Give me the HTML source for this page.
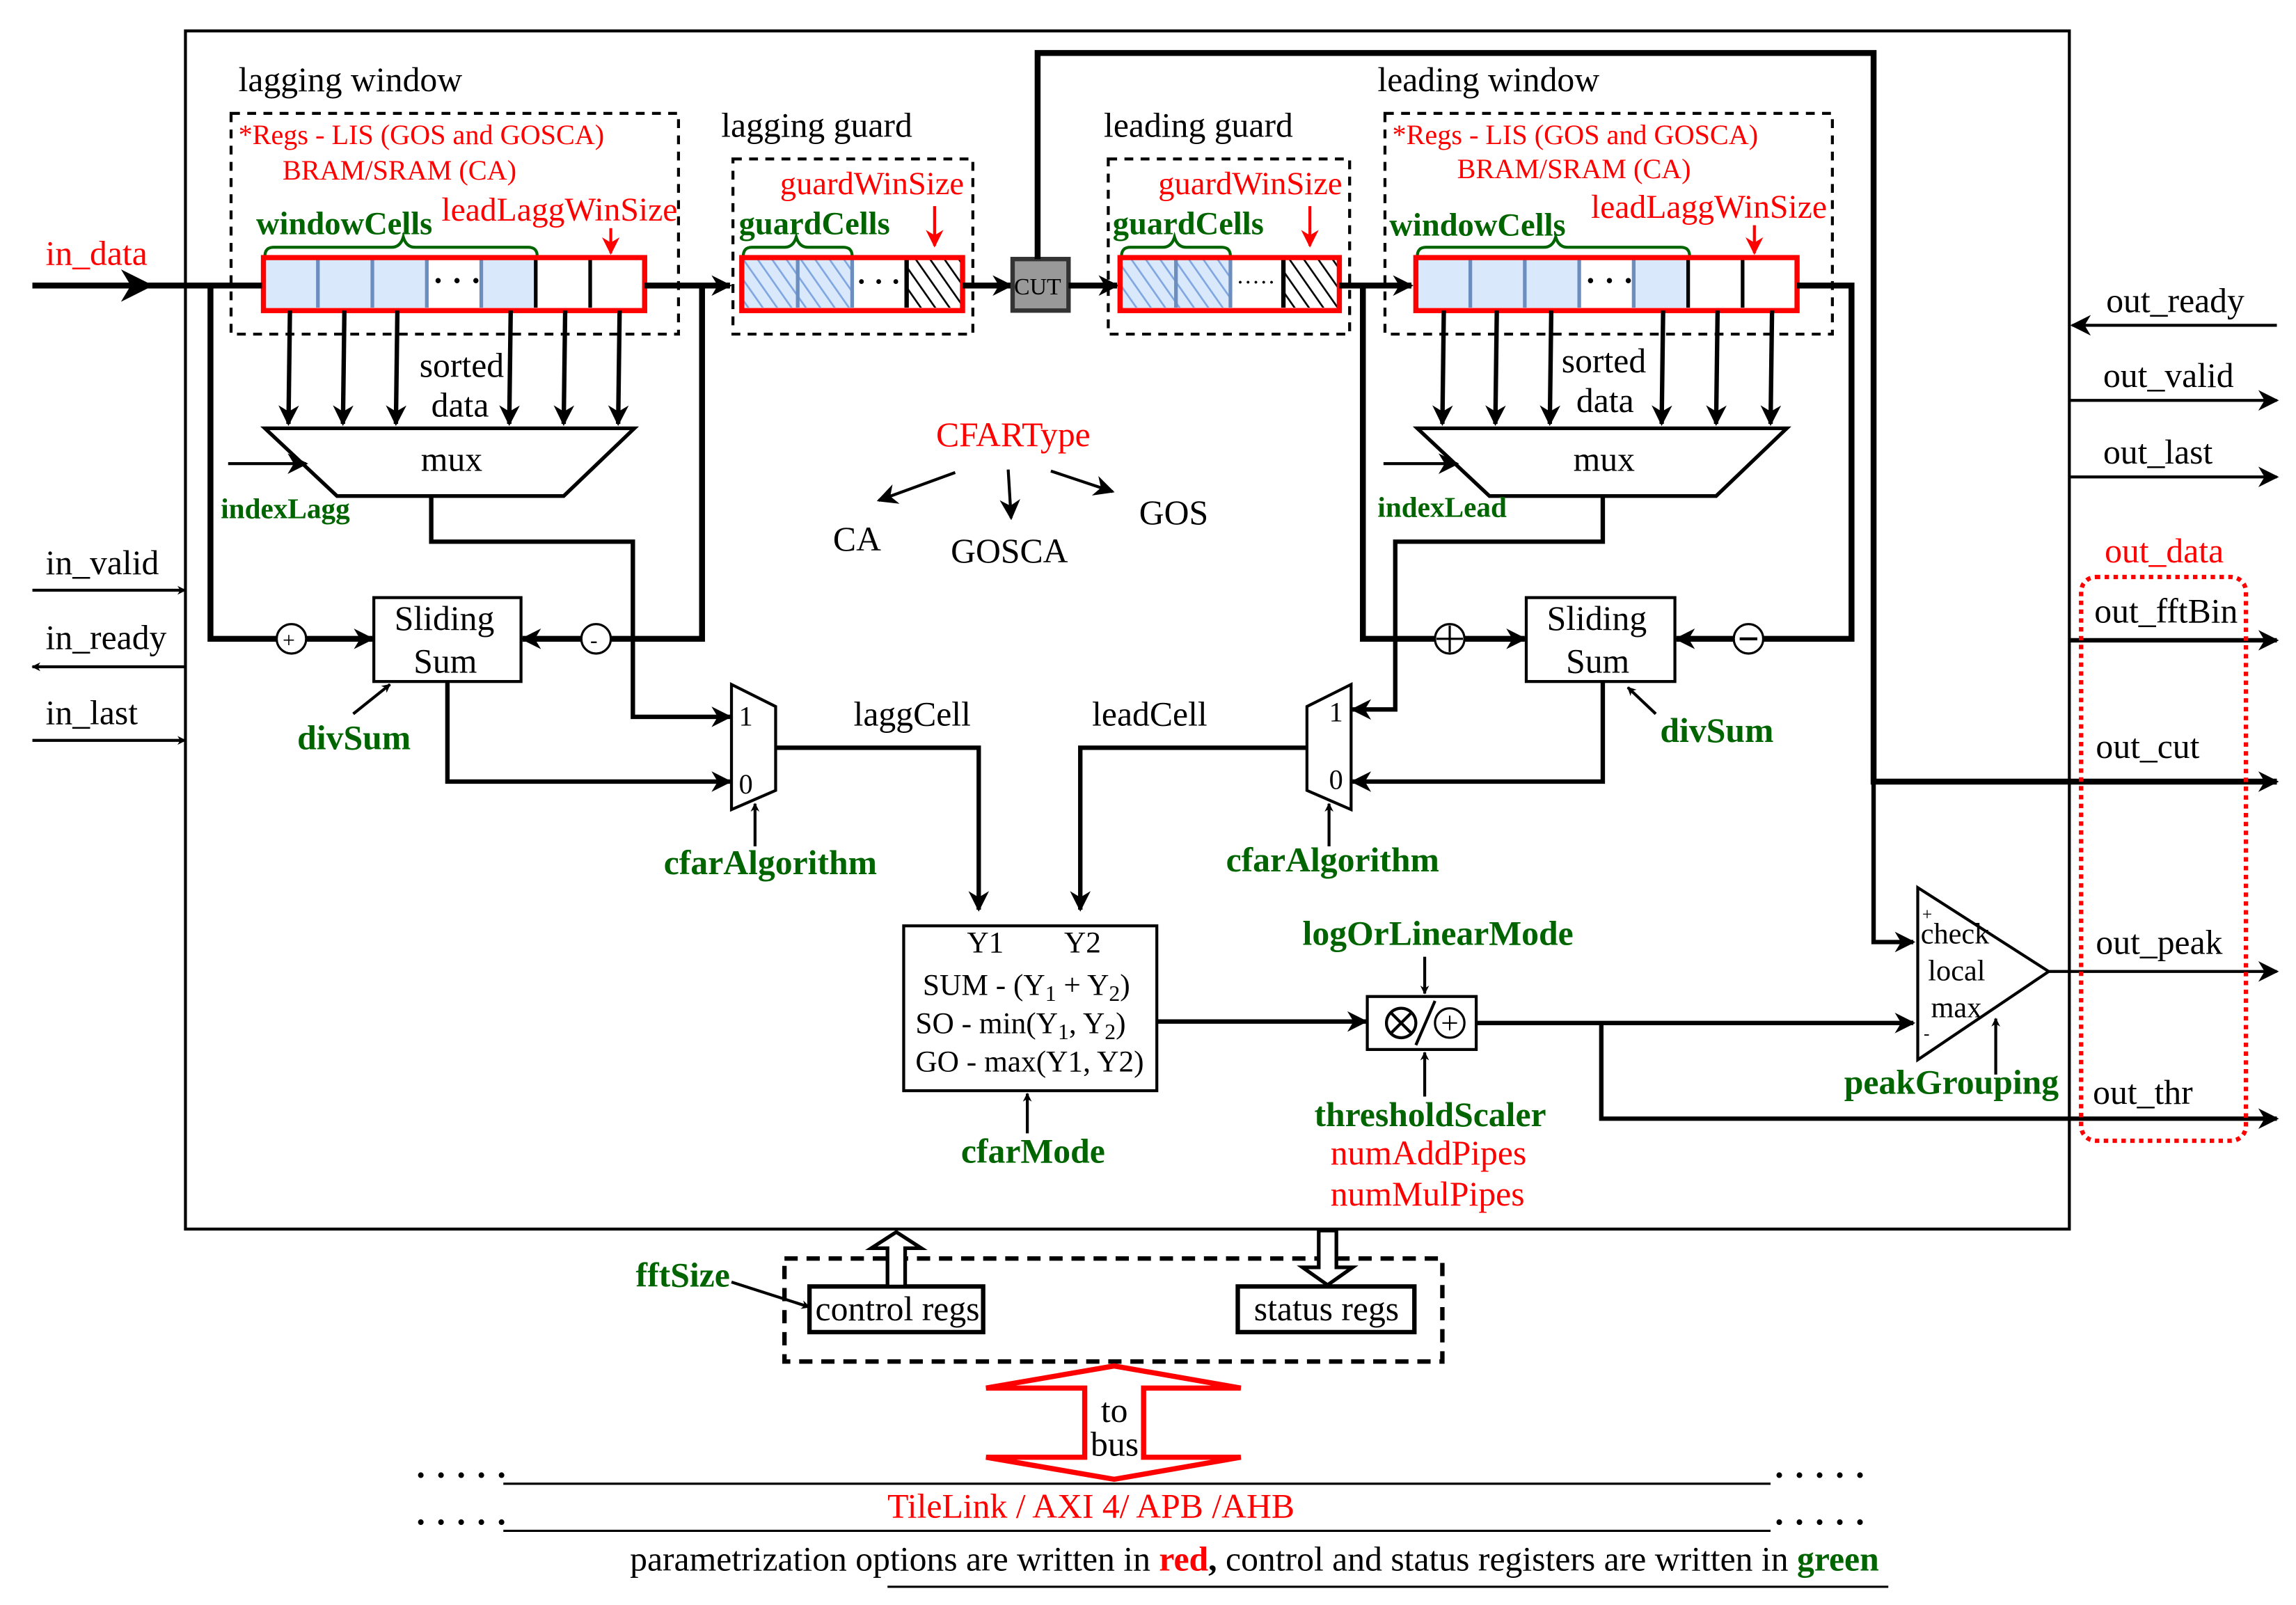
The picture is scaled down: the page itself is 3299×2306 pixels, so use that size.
<!DOCTYPE html>
<html><head><meta charset="utf-8"><style>
html,body{margin:0;padding:0;background:#fff;}
svg{display:block;}
text{font-family:"Liberation Serif",serif;font-size:23.5px;fill:#000;}
.r{fill:#f00;}
.g{fill:#006400;font-weight:bold;}
.th{stroke:#000;stroke-width:4;fill:none;}
.tn{stroke:#000;stroke-width:2;fill:none;}
</style></head><body>
<svg width="3299" height="2306" viewBox="0 0 1560 1090.4" preserveAspectRatio="none" xmlns="http://www.w3.org/2000/svg">
<defs>
<marker id="a" viewBox="0 0 10 10" refX="9" refY="5" markerWidth="6" markerHeight="6" orient="auto" markerUnits="userSpaceOnUse"><path d="M0,0 L10,5 L0,10 L3,5z" fill="#000"/></marker>
<marker id="A" viewBox="0 0 10 10" refX="9" refY="5" markerWidth="22" markerHeight="22" orient="auto" markerUnits="userSpaceOnUse"><path d="M0,0 L10,5 L0,10 L3,5z" fill="#000"/></marker>
<marker id="m" viewBox="0 0 10 10" refX="9" refY="5" markerWidth="14" markerHeight="14" orient="auto" markerUnits="userSpaceOnUse"><path d="M0,0 L10,5 L0,10 L3,5z" fill="#000"/></marker>
<marker id="ar" viewBox="0 0 10 10" refX="9" refY="5" markerWidth="12" markerHeight="12" orient="auto" markerUnits="userSpaceOnUse"><path d="M0,0 L10,5 L0,10 L3,5z" fill="#f00"/></marker>
<pattern id="hb" width="8" height="8" patternUnits="userSpaceOnUse" patternTransform="rotate(-35)"><rect width="8" height="8" fill="#dae8fc"/><line x1="0" y1="0" x2="0" y2="8" stroke="#7ea6e0" stroke-width="2.5"/></pattern>
<pattern id="hk" width="8" height="8" patternUnits="userSpaceOnUse" patternTransform="rotate(-35)"><rect width="8" height="8" fill="#fff"/><line x1="0" y1="0" x2="0" y2="8" stroke="#000" stroke-width="2.5"/></pattern>
</defs>

<rect x="126" y="21" width="1280" height="814" fill="none" stroke="#000" stroke-width="2"/>

<!-- lagging window -->
<text x="162" y="62">lagging window</text>
<rect x="157" y="77" width="304" height="150" fill="none" stroke="#000" stroke-width="2" stroke-dasharray="6,5"/>
<text class="r" x="162" y="98" style="font-size:19px">*Regs - LIS (GOS and GOSCA)</text>
<text class="r" x="192" y="122" style="font-size:19px">BRAM/SRAM (CA)</text>
<text class="g" x="174" y="159" style="font-size:22px">windowCells</text>
<path d="M180,174 q0,-6 6,-6 h80 q6,0 8,-7 q2,7 8,7 h77 q6,0 6,6" fill="none" stroke="#006400" stroke-width="2"/>
<text class="r" x="300" y="150" style="font-size:22.5px">leadLaggWinSize</text>
<line x1="415" y1="155" x2="415" y2="172" stroke="#f00" stroke-width="2" marker-end="url(#ar)"/>
<rect x="180" y="176" width="183" height="33" fill="#dae8fc"/>
<rect x="290" y="176" width="37" height="33" fill="#fff"/>
<g stroke="#6c8ebf" stroke-width="2.5"><line x1="216" y1="176" x2="216" y2="209"/><line x1="253" y1="176" x2="253" y2="209"/><line x1="290" y1="176" x2="290" y2="209"/><line x1="327" y1="176" x2="327" y2="209"/></g>
<g stroke="#000" stroke-width="2.5"><line x1="364" y1="176" x2="364" y2="209"/><line x1="401" y1="176" x2="401" y2="209"/></g>
<text x="294" y="198" style="font-size:22px;font-weight:bold">· · ·</text>
<rect x="179" y="175" width="259" height="36" fill="none" stroke="#f00" stroke-width="3.5"/>
<g class="tn" style="stroke-width:3" marker-end="url(#m)"><line x1="197" y1="211" x2="196" y2="288"/><line x1="234" y1="211" x2="233" y2="288"/><line x1="270" y1="211" x2="269" y2="288"/><line x1="347" y1="211" x2="346" y2="288"/><line x1="384" y1="211" x2="383" y2="288"/><line x1="421" y1="211" x2="420" y2="288"/></g>
<text x="285" y="256">sorted</text><text x="293" y="283">data</text>
<polygon points="180,291 431,291 383,337 229,337" fill="#fff" stroke="#000" stroke-width="2.5"/>
<text x="286" y="320">mux</text>
<line x1="155" y1="315" x2="208" y2="315" class="tn" marker-end="url(#m)"/>
<text class="g" x="150" y="352" style="font-size:19.5px">indexLagg</text>

<!-- in_data -->
<text class="r" x="31" y="180">in_data</text>
<line x1="22" y1="194" x2="178" y2="194" class="th"/>
<line x1="40" y1="194" x2="102" y2="194" class="th" marker-end="url(#A)"/>
<polyline points="143,194 143,434 253,434" class="th" marker-end="url(#m)"/>
<circle cx="198" cy="434" r="10" fill="#fff" stroke="#000" stroke-width="1.5"/><text x="192" y="440" style="font-size:15px">+</text>
<line x1="438" y1="194" x2="496" y2="194" class="th" marker-end="url(#m)"/>
<polyline points="477,194 477,434 355,434" class="th" marker-end="url(#m)"/>
<circle cx="405" cy="434" r="10" fill="#fff" stroke="#000" stroke-width="1.5"/><text x="401" y="440" style="font-size:15px">-</text>
<rect x="254" y="406" width="100" height="57" fill="#fff" stroke="#000" stroke-width="2"/>
<text x="268" y="428">Sliding</text><text x="281" y="457">Sum</text>
<text class="g" x="202" y="509">divSum</text>
<line x1="240" y1="485" x2="265" y2="465" class="tn" marker-end="url(#a)"/>
<polyline points="293,337 293,368 430,368 430,487 496,487" class="th" style="stroke-width:3" marker-end="url(#m)"/>
<polyline points="304,463 304,531 496,531" class="th" style="stroke-width:3" marker-end="url(#m)"/>
<polygon points="497,465 527,480 527,537 497,550" fill="#fff" stroke="#000" stroke-width="2"/>
<text x="502" y="493" style="font-size:19px">1</text><text x="502" y="539" style="font-size:19px">0</text>
<line x1="513" y1="575" x2="513" y2="546" class="tn" marker-end="url(#a)"/>
<text class="g" x="451" y="594">cfarAlgorithm</text>
<polyline points="527,508 665,508 665,618" class="th" style="stroke-width:3" marker-end="url(#m)"/>
<text x="580" y="493">laggCell</text>

<!-- lagging guard -->
<text x="490" y="93">lagging guard</text>
<rect x="498" y="108" width="163" height="119" fill="none" stroke="#000" stroke-width="2" stroke-dasharray="6,5"/>
<text class="r" x="530" y="132" style="font-size:22px">guardWinSize</text>
<line x1="635" y1="140" x2="635" y2="167" stroke="#f00" stroke-width="2" marker-end="url(#ar)"/>
<text class="g" x="502" y="159" style="font-size:22px">guardCells</text>
<path d="M505,174 q0,-6 6,-6 h22 q6,0 8,-7 q2,7 8,7 h24 q6,0 6,6" fill="none" stroke="#006400" stroke-width="2"/>
<rect x="505" y="176" width="74" height="33" fill="url(#hb)"/>
<line x1="542" y1="176" x2="542" y2="209" stroke="#6c8ebf" stroke-width="2.5"/><line x1="579" y1="176" x2="579" y2="209" stroke="#6c8ebf" stroke-width="2.5"/>
<rect x="616" y="176" width="37" height="33" fill="url(#hk)"/><line x1="616" y1="176" x2="616" y2="209" stroke="#000" stroke-width="3"/>
<text x="582" y="198" style="font-size:20px;font-weight:bold">· · ·</text>
<rect x="504" y="175" width="150" height="36" fill="none" stroke="#f00" stroke-width="3.5"/>
<line x1="654" y1="194" x2="687" y2="194" class="th" marker-end="url(#m)"/>
<rect x="688" y="176" width="38" height="35" fill="#999" stroke="#333" stroke-width="3"/>
<text x="689" y="200" style="font-size:16px">CUT</text>
<line x1="726" y1="194" x2="759" y2="194" class="th" marker-end="url(#m)"/>
<polyline points="705,176 705,36 1273,36 1273,531 1547,531" class="th" marker-end="url(#m)"/>
<polyline points="1273,531 1273,640 1300,640" class="th" style="stroke-width:3" marker-end="url(#m)"/>

<!-- leading guard -->
<text x="750" y="93">leading guard</text>
<rect x="753" y="108" width="164" height="119" fill="none" stroke="#000" stroke-width="2" stroke-dasharray="6,5"/>
<text class="r" x="787" y="132" style="font-size:22px">guardWinSize</text>
<line x1="890" y1="140" x2="890" y2="167" stroke="#f00" stroke-width="2" marker-end="url(#ar)"/>
<text class="g" x="756" y="159" style="font-size:22px">guardCells</text>
<path d="M762,174 q0,-6 6,-6 h22 q6,0 8,-7 q2,7 8,7 h24 q6,0 6,6" fill="none" stroke="#006400" stroke-width="2"/>
<rect x="762" y="176" width="74" height="33" fill="url(#hb)"/>
<line x1="799" y1="176" x2="799" y2="209" stroke="#6c8ebf" stroke-width="2.5"/><line x1="836" y1="176" x2="836" y2="209" stroke="#6c8ebf" stroke-width="2.5"/>
<rect x="872" y="176" width="37" height="33" fill="url(#hk)"/><line x1="872" y1="176" x2="872" y2="209" stroke="#000" stroke-width="3"/>
<text x="840" y="197" style="font-size:16px">·····</text>
<rect x="761" y="175" width="149" height="36" fill="none" stroke="#f00" stroke-width="3.5"/>
<line x1="910" y1="194" x2="959" y2="194" class="th" marker-end="url(#m)"/>
<polyline points="926,194 926,434 1036,434" class="th" marker-end="url(#m)"/>
<circle cx="985" cy="434" r="10" fill="#fff" stroke="#000" stroke-width="1.5"/><line x1="976" y1="434" x2="994" y2="434" stroke="#000" stroke-width="1.5"/><line x1="985" y1="425" x2="985" y2="443" stroke="#000" stroke-width="1.5"/>

<!-- leading window -->
<text x="936" y="62">leading window</text>
<rect x="941" y="77" width="304" height="150" fill="none" stroke="#000" stroke-width="2" stroke-dasharray="6,5"/>
<text class="r" x="946" y="98" style="font-size:19px">*Regs - LIS (GOS and GOSCA)</text>
<text class="r" x="990" y="121" style="font-size:19px">BRAM/SRAM (CA)</text>
<text class="g" x="944" y="160" style="font-size:22px">windowCells</text>
<path d="M963,174 q0,-6 6,-6 h80 q6,0 8,-7 q2,7 8,7 h77 q6,0 6,6" fill="none" stroke="#006400" stroke-width="2"/>
<text class="r" x="1081" y="148" style="font-size:22.5px">leadLaggWinSize</text>
<line x1="1192" y1="153" x2="1192" y2="172" stroke="#f00" stroke-width="2" marker-end="url(#ar)"/>
<rect x="963" y="176" width="184" height="33" fill="#dae8fc"/>
<rect x="1073" y="176" width="37" height="33" fill="#fff"/>
<g stroke="#6c8ebf" stroke-width="2.5"><line x1="999" y1="176" x2="999" y2="209"/><line x1="1036" y1="176" x2="1036" y2="209"/><line x1="1073" y1="176" x2="1073" y2="209"/><line x1="1110" y1="176" x2="1110" y2="209"/></g>
<g stroke="#000" stroke-width="2.5"><line x1="1147" y1="176" x2="1147" y2="209"/><line x1="1184" y1="176" x2="1184" y2="209"/></g>
<text x="1077" y="198" style="font-size:22px;font-weight:bold">· · ·</text>
<rect x="962" y="175" width="259" height="36" fill="none" stroke="#f00" stroke-width="3.5"/>
<polyline points="1221,194 1258,194 1258,434 1139,434" class="th" marker-end="url(#m)"/>
<circle cx="1188" cy="434" r="10" fill="#fff" stroke="#000" stroke-width="1.5"/><line x1="1182" y1="434" x2="1194" y2="434" stroke="#000" stroke-width="2"/>
<g class="tn" style="stroke-width:3" marker-end="url(#m)"><line x1="981" y1="211" x2="980" y2="288"/><line x1="1017" y1="211" x2="1016" y2="288"/><line x1="1054" y1="211" x2="1053" y2="288"/><line x1="1130" y1="211" x2="1129" y2="288"/><line x1="1167" y1="211" x2="1166" y2="288"/><line x1="1204" y1="211" x2="1203" y2="288"/></g>
<text x="1061" y="253">sorted</text><text x="1071" y="280">data</text>
<polygon points="963,291 1214,291 1166,337 1012,337" fill="#fff" stroke="#000" stroke-width="2.5"/>
<text x="1069" y="320">mux</text>
<line x1="940" y1="315" x2="990" y2="315" class="tn" marker-end="url(#m)"/>
<text class="g" x="936" y="351" style="font-size:19.5px">indexLead</text>
<polyline points="1089,337 1089,368 948,368 948,482 919,482" class="th" style="stroke-width:3" marker-end="url(#m)"/>
<rect x="1037" y="406" width="101" height="57" fill="#fff" stroke="#000" stroke-width="2"/>
<text x="1051" y="428">Sliding</text><text x="1064" y="457">Sum</text>
<polyline points="1089,463 1089,531 919,531" class="th" style="stroke-width:3" marker-end="url(#m)"/>
<text class="g" x="1128" y="504">divSum</text>
<line x1="1125" y1="485" x2="1106" y2="467" class="tn" marker-end="url(#a)"/>
<polygon points="918,465 888,480 888,537 918,550" fill="#fff" stroke="#000" stroke-width="2"/>
<text x="903" y="490" style="font-size:19px">1</text><text x="903" y="536" style="font-size:19px">0</text>
<line x1="903" y1="575" x2="903" y2="546" class="tn" marker-end="url(#a)"/>
<text class="g" x="833" y="592">cfarAlgorithm</text>
<polyline points="888,508 734,508 734,618" class="th" style="stroke-width:3" marker-end="url(#m)"/>
<text x="742" y="493">leadCell</text>

<!-- CFARType -->
<text class="r" x="636" y="303">CFARType</text>
<line x1="649" y1="321" x2="597" y2="340" class="tn" marker-end="url(#m)"/>
<line x1="685" y1="319" x2="687" y2="352" class="tn" marker-end="url(#m)"/>
<line x1="714" y1="320" x2="756" y2="334" class="tn" marker-end="url(#m)"/>
<text x="566" y="374">CA</text><text x="646" y="382">GOSCA</text><text x="774" y="356">GOS</text>

<!-- middle box -->
<rect x="614" y="629" width="172" height="112" fill="#fff" stroke="#000" stroke-width="2"/>
<text x="657" y="647" style="font-size:20.5px">Y1</text><text x="723" y="647" style="font-size:20.5px">Y2</text>
<text x="627" y="676" style="font-size:20.5px">SUM - (Y<tspan dy="4" style="font-size:15px">1</tspan><tspan dy="-4"> + Y</tspan><tspan dy="4" style="font-size:15px">2</tspan><tspan dy="-4">)</tspan></text>
<text x="622" y="702" style="font-size:20.5px">SO - min(Y<tspan dy="4" style="font-size:15px">1</tspan><tspan dy="-4">, Y</tspan><tspan dy="4" style="font-size:15px">2</tspan><tspan dy="-4">)</tspan></text>
<text x="622" y="728" style="font-size:20.5px">GO - max(Y1, Y2)</text>
<line x1="698" y1="770" x2="698" y2="743" class="tn" marker-end="url(#a)"/>
<text class="g" x="653" y="790">cfarMode</text>
<line x1="786" y1="694" x2="928" y2="694" class="th" style="stroke-width:3" marker-end="url(#m)"/>
<rect x="929" y="677" width="74" height="36" fill="#fff" stroke="#000" stroke-width="2"/>
<circle cx="952" cy="695" r="10" fill="none" stroke="#000" stroke-width="2"/><line x1="945" y1="688" x2="959" y2="702" stroke="#000" stroke-width="2"/><line x1="959" y1="688" x2="945" y2="702" stroke="#000" stroke-width="2"/>
<line x1="962" y1="710" x2="975" y2="680" stroke="#000" stroke-width="2"/>
<circle cx="985" cy="695" r="10" fill="none" stroke="#000" stroke-width="1.5"/><line x1="980" y1="695" x2="990" y2="695" stroke="#000" stroke-width="1"/><line x1="985" y1="690" x2="985" y2="700" stroke="#000" stroke-width="1"/>
<text class="g" x="885" y="642">logOrLinearMode</text>
<line x1="968" y1="650" x2="968" y2="675" class="tn" marker-end="url(#a)"/>
<line x1="968" y1="745" x2="968" y2="715" class="tn" marker-end="url(#a)"/>
<text class="g" x="893" y="765">thresholdScaler</text>
<text class="r" x="904" y="791">numAddPipes</text>
<text class="r" x="904" y="819">numMulPipes</text>
<line x1="1003" y1="695" x2="1300" y2="695" class="th" style="stroke-width:3" marker-end="url(#m)"/>
<polyline points="1088,695 1088,760 1547,760" class="th" style="stroke-width:3" marker-end="url(#m)"/>
<polygon points="1303,603 1392,660 1303,720" fill="#fff" stroke="#000" stroke-width="2"/>
<text x="1305" y="641" style="font-size:20px">check</text><text x="1310" y="666" style="font-size:20px">local</text><text x="1312" y="691" style="font-size:20px">max</text>
<text x="1306" y="625" style="font-size:12px">+</text><text x="1307" y="706" style="font-size:12px">-</text>
<line x1="1392" y1="660" x2="1547" y2="660" class="tn" marker-end="url(#m)"/>
<line x1="1356" y1="730" x2="1356" y2="692" class="tn" marker-end="url(#a)"/>
<text class="g" x="1253" y="743">peakGrouping</text>

<!-- right side -->
<line x1="1547" y1="221" x2="1408" y2="221" class="tn" marker-end="url(#m)"/><text x="1431" y="212">out_ready</text>
<line x1="1407" y1="272" x2="1547" y2="272" class="tn" marker-end="url(#m)"/><text x="1429" y="263">out_valid</text>
<line x1="1407" y1="324" x2="1547" y2="324" class="tn" marker-end="url(#m)"/><text x="1429" y="315">out_last</text>
<text class="r" x="1430" y="382">out_data</text>
<line x1="1407" y1="435" x2="1547" y2="435" class="th" style="stroke-width:3" marker-end="url(#m)"/><text x="1423" y="423">out_fftBin</text>
<text x="1424" y="515">out_cut</text><text x="1424" y="648">out_peak</text><text x="1422" y="750">out_thr</text>
<rect x="1414" y="392" width="112" height="383" rx="10" fill="none" stroke="#f00" stroke-width="3" stroke-dasharray="3,3"/>

<!-- left -->
<text x="31" y="390">in_valid</text><line x1="22" y1="401" x2="126" y2="401" class="tn" marker-end="url(#a)"/>
<text x="31" y="441">in_ready</text><line x1="126" y1="453" x2="22" y2="453" class="tn" marker-end="url(#a)"/>
<text x="31" y="492">in_last</text><line x1="22" y1="503" x2="126" y2="503" class="tn" marker-end="url(#a)"/>

<!-- bottom -->
<rect x="533" y="855" width="447" height="70" fill="none" stroke="#000" stroke-width="3" stroke-dasharray="9,6"/>
<rect x="550" y="874" width="118" height="31" fill="#fff" stroke="#000" stroke-width="3"/><text x="554" y="897">control regs</text>
<rect x="841" y="874" width="120" height="31" fill="#fff" stroke="#000" stroke-width="3"/><text x="852" y="897">status regs</text>
<polygon points="603,874 603,848 592,848 609,837 626,848 615,848 615,874" fill="#fff" stroke="#000" stroke-width="2.5"/>
<polygon points="896,836 908,836 908,861 919,861 902,873 885,861 896,861" fill="#fff" stroke="#000" stroke-width="2.5"/>
<text class="g" x="432" y="874">fftSize</text>
<line x1="497" y1="871" x2="550" y2="888" class="tn" marker-end="url(#a)"/>
<polygon points="757,928 843,943 777,943 777,990 843,990 757,1005 670,990 737,990 737,943 670,943" fill="#fff" stroke="#f00" stroke-width="3.5"/>
<text x="748" y="966">to</text><text x="741" y="989">bus</text>
<line x1="342" y1="1008" x2="1203" y2="1008" stroke="#000" stroke-width="1.5"/>
<line x1="342" y1="1040" x2="1203" y2="1040" stroke="#000" stroke-width="1.5"/>
<text x="282" y="1010" style="font-weight:bold">· · · · ·</text><text x="1205" y="1010" style="font-weight:bold">· · · · ·</text>
<text x="282" y="1042" style="font-weight:bold">· · · · ·</text><text x="1205" y="1042" style="font-weight:bold">· · · · ·</text>
<text class="r" x="603" y="1031">TileLink / AXI 4/ APB /AHB</text>
<text x="428" y="1067">parametrization options are written in <tspan style="fill:#f00;font-weight:bold">red</tspan><tspan style="font-weight:bold">,</tspan> control and status registers are written in <tspan style="fill:#006400;font-weight:bold">green</tspan></text>
<line x1="603" y1="1078" x2="1283" y2="1078" stroke="#000" stroke-width="1.5"/>
</svg>
</body></html>
